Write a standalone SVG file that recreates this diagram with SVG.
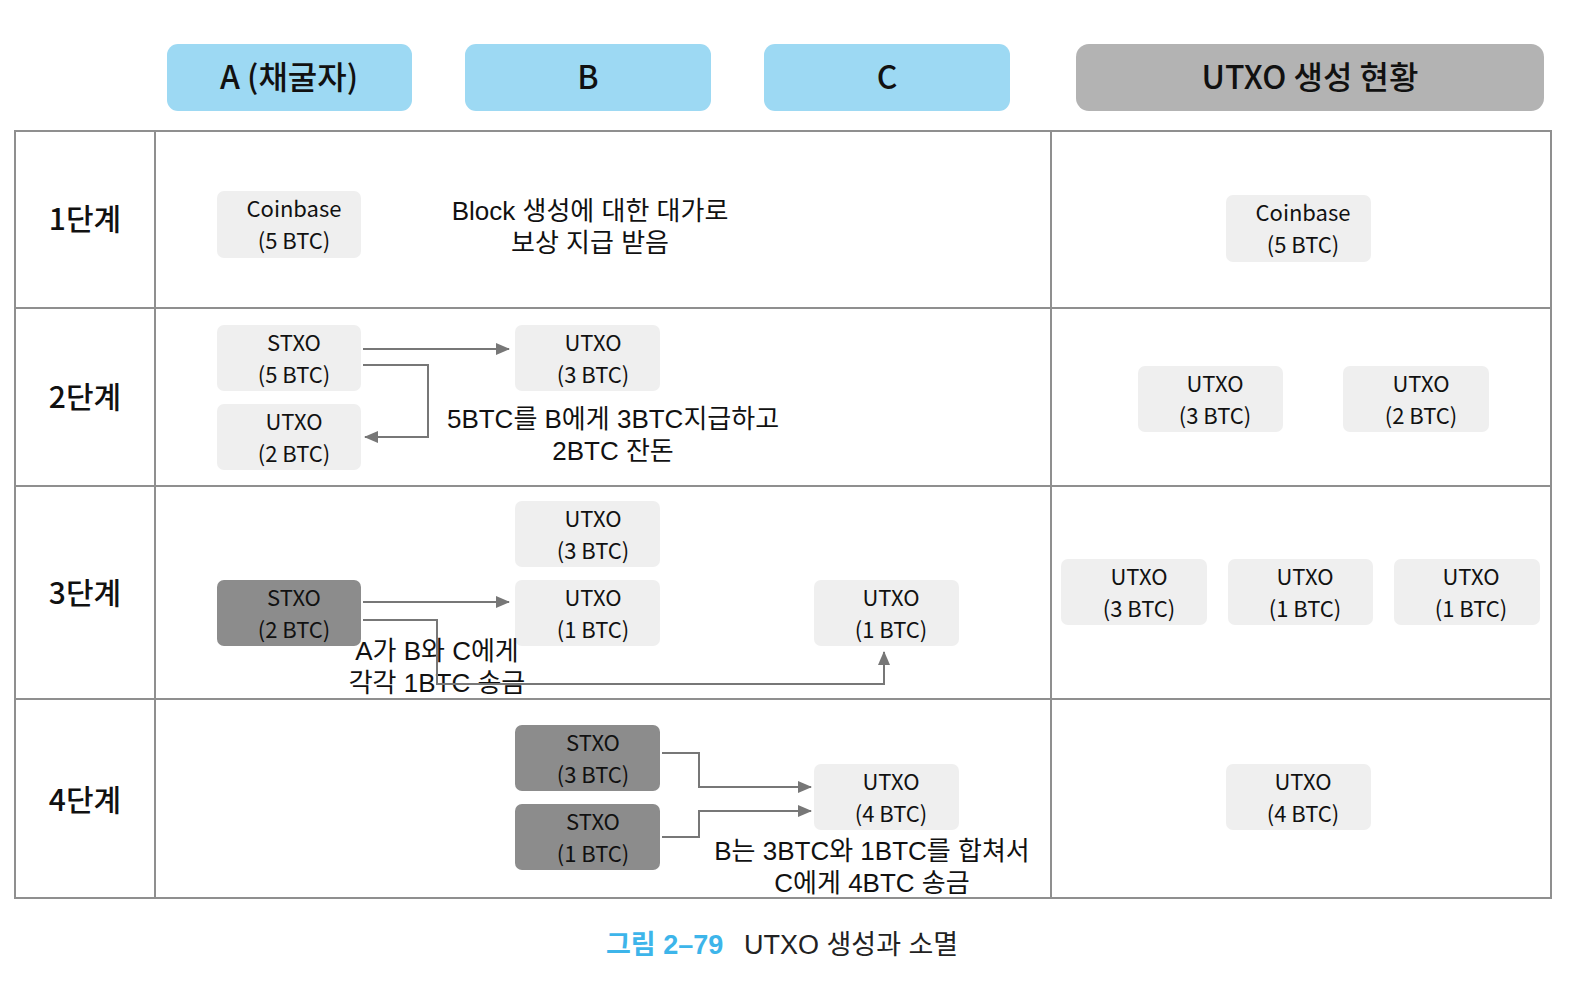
<svg xmlns="http://www.w3.org/2000/svg" width="1584" height="986" viewBox="0 0 1584 986">
<defs>
<marker id="ah" viewBox="0 0 14 12" refX="13" refY="6" markerWidth="14" markerHeight="12" markerUnits="userSpaceOnUse" orient="auto">
<path d="M0,0 L14,6 L0,12 Z" fill="#777"/>
</marker>
<style>
text{font-family:"Noto Sans CJK KR","Noto Sans",sans-serif;fill:#111;text-anchor:middle}
.hdr{font-size:32px;font-weight:500}
.hb{fill:#9dd9f3}
.hg{fill:#b3b3b3}
.grid{fill:none;stroke:#8f8f8f;stroke-width:2}
.lt{fill:#efefef}
.dk{fill:#8c8c8c}
.bt{font-size:22px}
.lbl{font-size:26px;font-family:"Liberation Sans","Noto Sans CJK KR",sans-serif}
.row{font-size:30px;font-weight:500}
.con{fill:none;stroke:#777;stroke-width:2}
</style>
</defs>
<rect width="1584" height="986" fill="#fff"/>

<g id="headers">
<g id="hA"><rect class="hb" x="167" y="44" width="245" height="67" rx="11"/><text class="hdr" x="289" y="89">A (채굴자)</text></g>
<g id="hB"><rect class="hb" x="465" y="44" width="246" height="67" rx="11"/><text class="hdr" x="588" y="89">B</text></g>
<g id="hC"><rect class="hb" x="764" y="44" width="246" height="67" rx="11"/><text class="hdr" x="887" y="89">C</text></g>
<g id="hU"><rect class="hg" x="1076" y="44" width="468" height="67" rx="13"/><text class="hdr" x="1310" y="89">UTXO 생성 현황</text></g>
</g>

<g id="table">
<rect class="grid" x="15" y="131" width="1536" height="767"/>
<line class="grid" x1="155" y1="131" x2="155" y2="898"/>
<line class="grid" x1="1051" y1="131" x2="1051" y2="898"/>
<line class="grid" x1="15" y1="308" x2="1551" y2="308"/>
<line class="grid" x1="15" y1="486" x2="1551" y2="486"/>
<line class="grid" x1="15" y1="699" x2="1551" y2="699"/>
<text class="row" x="85" y="230">1단계</text>
<text class="row" x="85" y="408">2단계</text>
<text class="row" x="85" y="604">3단계</text>
<text class="row" x="85" y="811">4단계</text>
</g>

<g id="s1">
<g id="s1a"><rect class="lt" x="217" y="191" width="144" height="67" rx="7"/><text class="bt" x="294" y="217">Coinbase<tspan x="294" dy="32">(5 BTC)</tspan></text></g>
<text class="lbl" x="590" y="220">Block 생성에 대한 대가로<tspan x="590" dy="32">보상 지급 받음</tspan></text>
<g id="s1u"><rect class="lt" x="1226" y="195" width="145" height="67" rx="7"/><text class="bt" x="1303" y="221">Coinbase<tspan x="1303" dy="32">(5 BTC)</tspan></text></g>
</g>

<g id="s2">
<g id="s2a1"><rect class="lt" x="217" y="325" width="144" height="66" rx="7"/><text class="bt" x="294" y="351">STXO<tspan x="294" dy="32">(5 BTC)</tspan></text></g>
<g id="s2a2"><rect class="lt" x="217" y="404" width="144" height="66" rx="7"/><text class="bt" x="294" y="430">UTXO<tspan x="294" dy="32">(2 BTC)</tspan></text></g>
<g id="s2b"><rect class="lt" x="515" y="325" width="145" height="66" rx="7"/><text class="bt" x="593" y="351">UTXO<tspan x="593" dy="32">(3 BTC)</tspan></text></g>
<text class="lbl" x="613" y="428">5BTC를 B에게 3BTC지급하고<tspan x="613" dy="32">2BTC 잔돈</tspan></text>
<g id="s2u1"><rect class="lt" x="1138" y="366" width="145" height="66" rx="7"/><text class="bt" x="1215" y="392">UTXO<tspan x="1215" dy="32">(3 BTC)</tspan></text></g>
<g id="s2u2"><rect class="lt" x="1343" y="366" width="146" height="66" rx="7"/><text class="bt" x="1421" y="392">UTXO<tspan x="1421" dy="32">(2 BTC)</tspan></text></g>
</g>

<g id="s3">
<g id="s3b1"><rect class="lt" x="515" y="501" width="145" height="66" rx="7"/><text class="bt" x="593" y="527">UTXO<tspan x="593" dy="32">(3 BTC)</tspan></text></g>
<g id="s3a"><rect class="dk" x="217" y="580" width="144" height="66" rx="7"/><text class="bt" x="294" y="606">STXO<tspan x="294" dy="32">(2 BTC)</tspan></text></g>
<g id="s3b2"><rect class="lt" x="515" y="580" width="145" height="66" rx="7"/><text class="bt" x="593" y="606">UTXO<tspan x="593" dy="32">(1 BTC)</tspan></text></g>
<g id="s3c"><rect class="lt" x="814" y="580" width="145" height="66" rx="7"/><text class="bt" x="891" y="606">UTXO<tspan x="891" dy="32">(1 BTC)</tspan></text></g>
<text class="lbl" x="437" y="660">A가 B와 C에게<tspan x="437" dy="32">각각 1BTC 송금</tspan></text>
<g id="s3u1"><rect class="lt" x="1061" y="559" width="146" height="66" rx="7"/><text class="bt" x="1139" y="585">UTXO<tspan x="1139" dy="32">(3 BTC)</tspan></text></g>
<g id="s3u2"><rect class="lt" x="1228" y="559" width="145" height="66" rx="7"/><text class="bt" x="1305" y="585">UTXO<tspan x="1305" dy="32">(1 BTC)</tspan></text></g>
<g id="s3u3"><rect class="lt" x="1394" y="559" width="146" height="66" rx="7"/><text class="bt" x="1471" y="585">UTXO<tspan x="1471" dy="32">(1 BTC)</tspan></text></g>
</g>

<g id="s4">
<g id="s4b1"><rect class="dk" x="515" y="725" width="145" height="66" rx="7"/><text class="bt" x="593" y="751">STXO<tspan x="593" dy="32">(3 BTC)</tspan></text></g>
<g id="s4b2"><rect class="dk" x="515" y="804" width="145" height="66" rx="7"/><text class="bt" x="593" y="830">STXO<tspan x="593" dy="32">(1 BTC)</tspan></text></g>
<g id="s4c"><rect class="lt" x="814" y="764" width="145" height="66" rx="7"/><text class="bt" x="891" y="790">UTXO<tspan x="891" dy="32">(4 BTC)</tspan></text></g>
<text class="lbl" x="872" y="860">B는 3BTC와 1BTC를 합쳐서<tspan x="872" dy="32">C에게 4BTC 송금</tspan></text>
<g id="s4u"><rect class="lt" x="1226" y="764" width="145" height="66" rx="7"/><text class="bt" x="1303" y="790">UTXO<tspan x="1303" dy="32">(4 BTC)</tspan></text></g>
</g>

<g id="connectors">
<path class="con" d="M363,349 H509" marker-end="url(#ah)"/>
<path class="con" d="M363,365 H428 V437 H365" marker-end="url(#ah)"/>
<path class="con" d="M363,602 H509" marker-end="url(#ah)"/>
<path class="con" d="M363,620 H437 V684 H884 V652" marker-end="url(#ah)"/>
<path class="con" d="M662,753 H699 V787 H811" marker-end="url(#ah)"/>
<path class="con" d="M662,837 H699 V811 H811" marker-end="url(#ah)"/>
</g>

<g id="caption">
<text x="606" y="954" style="text-anchor:start;font-size:27px;font-family:'Liberation Sans','Noto Sans CJK KR',sans-serif;fill:#3db5ea;font-weight:bold">그림 2–79</text>
<text x="744" y="954" style="text-anchor:start;font-size:27px;font-family:'Liberation Sans','Noto Sans CJK KR',sans-serif;fill:#222">UTXO 생성과 소멸</text>
</g>
</svg>
